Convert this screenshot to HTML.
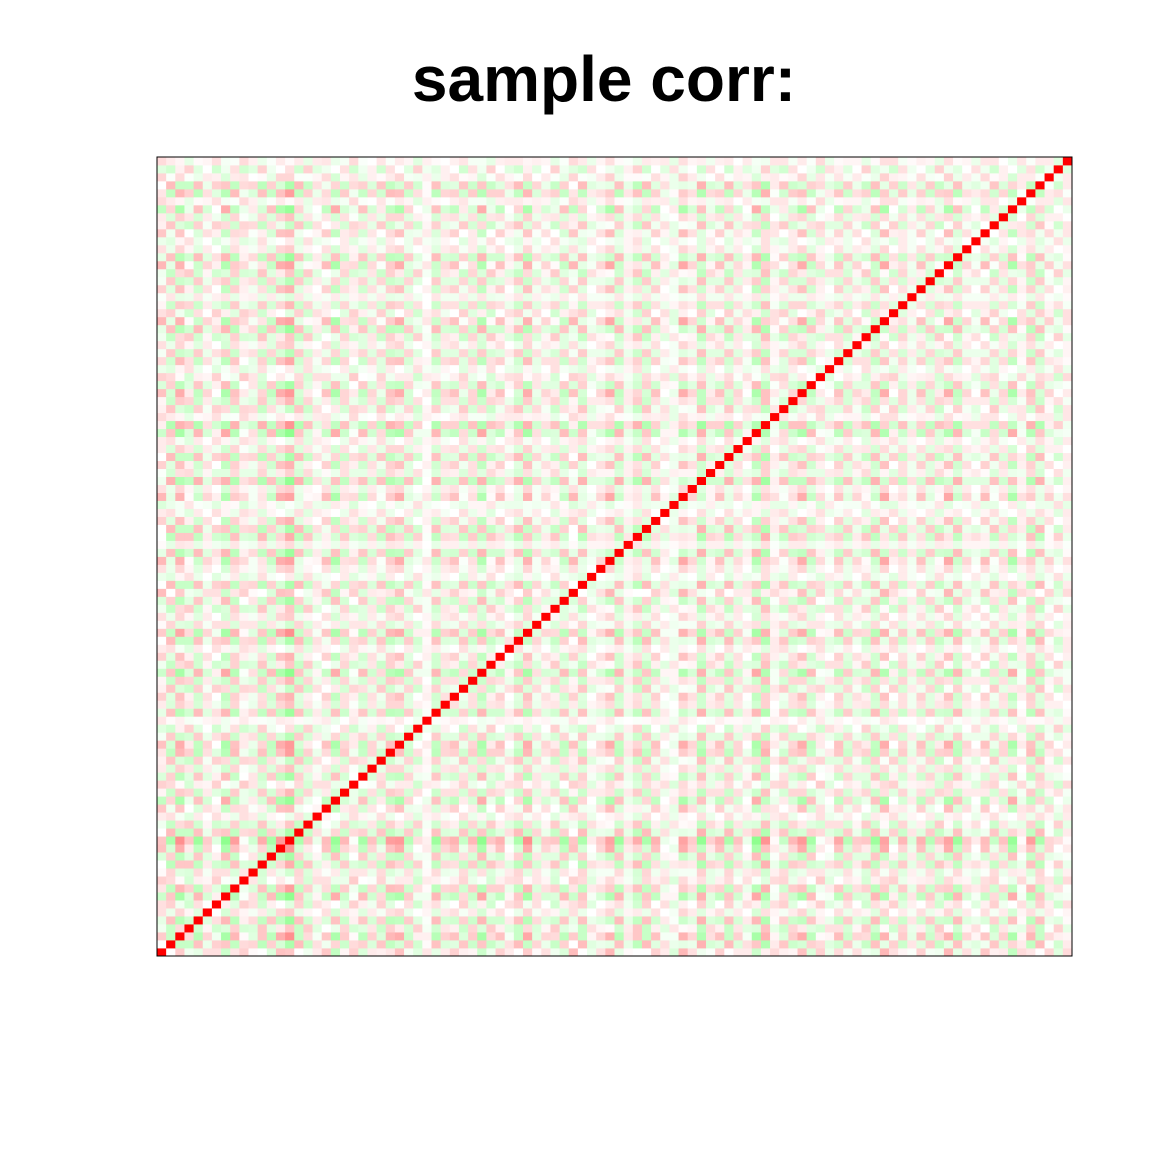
<!DOCTYPE html>
<html>
<head>
<meta charset="utf-8">
<style>
  html,body{margin:0;padding:0;background:#fff;}
  #wrap{position:relative;width:1152px;height:1152px;}
  #title{position:absolute;left:0;top:42px;width:1208px;text-align:center;font:bold 64px "Liberation Sans",sans-serif;color:#000;}
  svg{position:absolute;left:0;top:0;}
</style>
</head>
<body>
<div id="wrap">
  <div id="title">sample corr:</div>
  <svg id="plot" width="1152" height="1152"></svg>
</div>
<script>
// Approximated per-variable factor loadings (100 variables); cell value = gain*(t_i*t_j + u_i*u_j), diagonal = 1
const toneA = [0.3,-0.2,0.4,0.1,-0.3,0.2,0.0,-0.4,0.3,0.1,-0.1,0.2,-0.3,0.4,0.5,-0.2,0.1,0.0,0.3,-0.4,
               0.2,0.1,-0.3,0.2,-0.1,0.3,0.4,-0.2,0.0,0.1,-0.3,0.2,0.3,-0.1,0.2,-0.4,0.1,0.3,0.0,-0.2,
               0.4,-0.1,0.2,0.1,-0.3,0.3,-0.2,0.0,0.2,0.4,-0.3,0.1,0.2,-0.2,0.3,0.0,-0.1,0.4,0.2,-0.3,
               0.1,0.3,-0.2,0.2,0.0,-0.4,0.3,0.1,-0.1,0.2,0.4,-0.3,0.1,0.0,0.3,-0.2,0.2,0.1,-0.3,0.4,
               0.0,0.2,-0.1,0.3,-0.2,0.1,0.4,-0.3,0.2,0.0,0.3,-0.1,0.2,-0.4,0.1,0.3,-0.2,0.2,0.0,0.1];
const toneB = [0.2,0.3,-0.1,-0.3,0.2,0.0,0.3,0.1,-0.2,0.3,0.2,-0.3,0.1,0.0,-0.2,0.3,-0.3,0.2,0.1,0.0,
               -0.2,0.3,0.1,-0.1,0.3,-0.2,0.0,0.2,-0.3,0.1,0.2,-0.1,0.0,0.3,-0.2,0.1,-0.3,0.0,0.2,0.3,
               -0.1,0.2,0.0,-0.3,0.1,0.2,0.3,-0.2,0.0,0.1,0.2,-0.1,-0.3,0.3,0.0,0.2,-0.2,0.1,0.0,0.3,
               -0.2,0.0,0.3,-0.1,0.2,0.1,-0.3,0.2,0.3,-0.2,0.0,0.1,0.3,-0.2,-0.1,0.2,0.0,-0.3,0.2,0.1,
               0.3,-0.2,0.1,0.0,0.2,-0.3,0.1,0.2,0.0,-0.2,0.1,0.3,-0.1,0.0,0.2,-0.2,0.3,0.1,-0.3,0.2];
const nVars = 100;
const gain = 2.0;
const x0 = 157, x1 = 1072, y0 = 157, y1 = 956;
const xScale = i => x0 + (x1 - x0) * i / nVars;
const yScale = i => y1 - (y1 - y0) * (i + 1) / nVars;
function color(v){
  v = Math.max(-1, Math.min(1, v));
  if (v >= 0){ const c = Math.round(255*(1-v)); return `rgb(255,${c},${c})`; }
  const c = Math.round(255*(1+v)); return `rgb(${c},255,${c})`;
}
const svg = document.getElementById('plot');
const NS = 'http://www.w3.org/2000/svg';
const cw = (x1-x0)/nVars, ch = (y1-y0)/nVars;
for (let i = 0; i < nVars; i++){
  for (let j = 0; j < nVars; j++){
    const v = (i === j) ? 1 : gain*(toneA[i]*toneA[j] + toneB[i]*toneB[j]);
    const r = document.createElementNS(NS, 'rect');
    r.setAttribute('x', xScale(j).toFixed(2));
    r.setAttribute('y', yScale(i).toFixed(2));
    r.setAttribute('width', (cw + 0.4).toFixed(2));
    r.setAttribute('height', (ch + 0.4).toFixed(2));
    r.setAttribute('fill', color(v));
    
    
    svg.appendChild(r);
  }
}
const border = document.createElementNS(NS, 'rect');
border.setAttribute('x', x0); border.setAttribute('y', y0);
border.setAttribute('width', x1 - x0); border.setAttribute('height', y1 - y0);
border.setAttribute('fill', 'none'); border.setAttribute('stroke', '#000'); border.setAttribute('stroke-width', '1');


svg.appendChild(border);
</script>
</body>
</html>
